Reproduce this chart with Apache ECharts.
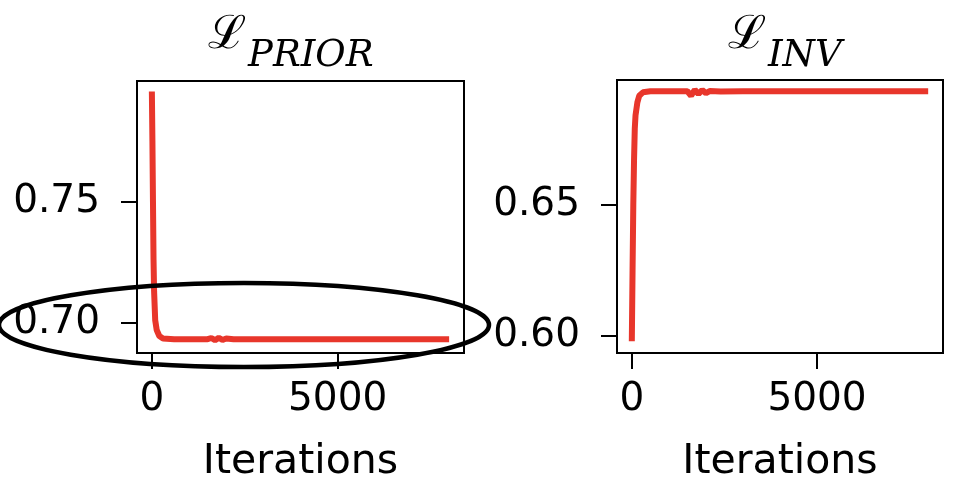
<!DOCTYPE html>
<html>
<head>
<meta charset="utf-8">
<script src="https://cdn.jsdelivr.net/npm/echarts@6/dist/echarts.min.js"></script>
<style>
html, body { margin: 0; padding: 0; background: #fff; }
#chart { width: 968px; height: 500px; }
</style>
</head>
<body>
<div id="chart"></div>
<script>
// loss curves (both settle near ln 2)
const iterPrior = [0, 15, 30, 45, 60, 90, 130, 200, 300, 600, 1000, 1500, 1600, 1700, 1800, 1900, 2000, 2200, 3000, 4000, 5000, 6000, 7000, 8000];
const lossPrior = [0.7955, 0.775, 0.75, 0.726, 0.713, 0.701, 0.697, 0.6945, 0.6935, 0.6932, 0.6932, 0.6932, 0.6937, 0.6928, 0.6938, 0.6929, 0.6935, 0.6932, 0.6932, 0.6932, 0.6932, 0.6932, 0.6932, 0.6932];
const iterInv = [0, 20, 40, 60, 80, 100, 150, 200, 300, 500, 1000, 1500, 1600, 1700, 1800, 1900, 2000, 2100, 2400, 3000, 4000, 5000, 6000, 7000, 8000];
const lossInv = [0.598, 0.625, 0.65, 0.667, 0.679, 0.684, 0.689, 0.6915, 0.6928, 0.6932, 0.6932, 0.6932, 0.6915, 0.6938, 0.6922, 0.6937, 0.6925, 0.6933, 0.6931, 0.6932, 0.6932, 0.6932, 0.6932, 0.6932, 0.6932];
const xTicks = [0, 5000];
const priorTicks = [0.70, 0.75];
const invTicks = [0.60, 0.65];

const lineColor = "#e8362b";
const tickFont = { fontFamily: "DejaVu Sans", fontSize: 39, color: "#000" };

function pairs(xs, ys) {
  return xs.map((x, i) => [x, ys[i]]);
}

function xAxisFor(gridIndex) {
  return {
    type: "value",
    gridIndex: gridIndex,
    min: -400,
    max: 8400,
    splitLine: { show: false },
    axisLine: { show: true, onZero: false, lineStyle: { color: "#000", width: 2 } },
    axisTick: { show: true, customValues: xTicks, length: 16, lineStyle: { color: "#000", width: 2 } },
    axisLabel: Object.assign({ customValues: xTicks, margin: 27, formatter: (v) => String(v) }, tickFont),
    name: "Iterations",
    nameLocation: "middle",
    nameGap: 89,
    nameTextStyle: { fontFamily: "DejaVu Sans", fontSize: 41, color: "#000" },
  };
}

function yAxisFor(gridIndex, min, max, ticks) {
  return {
    type: "value",
    gridIndex: gridIndex,
    min: min,
    max: max,
    splitLine: { show: false },
    axisLine: { show: true, onZero: false, lineStyle: { color: "#000", width: 2 } },
    axisTick: { show: true, customValues: ticks, length: 16, lineStyle: { color: "#000", width: 2 } },
    axisLabel: Object.assign({ customValues: ticks, margin: 37, formatter: (v) => v.toFixed(2) }, tickFont),
  };
}

function titleParts(x, sub) {
  return [
    {
      type: "text",
      left: x,
      top: 13,
      style: { text: "\u2112", font: '46px "DejaVu Serif"', fill: "#000" },
    },
    {
      type: "text",
      left: x + 40,
      top: 38,
      style: { text: sub, font: 'italic 37px "DejaVu Serif"', fill: "#000" },
    },
  ];
}

const chart = echarts.init(document.getElementById("chart"), null, { renderer: "canvas" });
chart.setOption({
  animation: false,
  backgroundColor: "#fff",
  grid: [
    { left: 137, top: 81, width: 327, height: 272, show: true, borderColor: "#000", borderWidth: 2 },
    { left: 617, top: 80, width: 326, height: 273, show: true, borderColor: "#000", borderWidth: 2 },
  ],
  xAxis: [xAxisFor(0), xAxisFor(1)],
  yAxis: [
    yAxisFor(0, 0.6875, 0.7998, priorTicks),
    yAxisFor(1, 0.5935, 0.6975, invTicks),
  ],
  series: [
    {
      type: "line",
      xAxisIndex: 0,
      yAxisIndex: 0,
      data: pairs(iterPrior, lossPrior),
      showSymbol: false,
      lineStyle: { color: lineColor, width: 6 },
      itemStyle: { color: lineColor },
    },
    {
      type: "line",
      xAxisIndex: 1,
      yAxisIndex: 1,
      data: pairs(iterInv, lossInv),
      showSymbol: false,
      lineStyle: { color: lineColor, width: 6 },
      itemStyle: { color: lineColor },
    },
  ],
  graphic: [
    ...titleParts(208, "PRIOR"),
    ...titleParts(728, "INV"),
    // hand-drawn highlight ring around the 0.70 level
    {
      type: "ellipse",
      shape: { cx: 244, cy: 325, rx: 245, ry: 42 },
      style: { fill: null, stroke: "#000", lineWidth: 4.5 },
      z: 100,
    },
  ],
});
</script>
</body>
</html>
